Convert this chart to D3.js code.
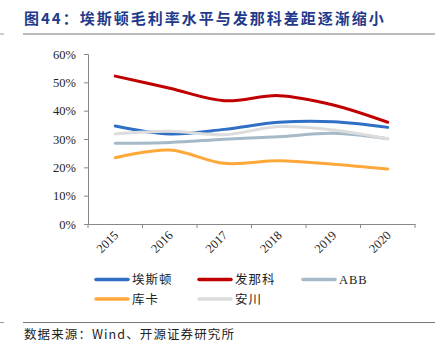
<!DOCTYPE html>
<html>
<head>
<meta charset="utf-8">
<script src="https://cdn.jsdelivr.net/npm/d3@7"></script>
<style>
	body { margin: 0; background: #fff; }
	svg { display: block; }
</style>
</head>
<body>
<script>
// data
var years = ["2015", "2016", "2017", "2018", "2019", "2020"];
var seriesNames = ["埃斯顿", "发那科", "ABB", "库卡", "安川"];
var estun = [34.6, 31.8, 33.4, 35.9, 36.1, 34.1];
var fanuc = [52.2, 47.9, 43.5, 45.3, 42.0, 35.9];
var abb = [28.5, 28.8, 29.9, 30.8, 32.0, 30.1];
var kuka = [23.4, 26.1, 21.4, 22.3, 21.1, 19.4];
var yaskawa = [31.8, 32.7, 31.5, 34.4, 33.2, 30.1];
var yTicks = [0, 10, 20, 30, 40, 50, 60];

var colors = ["#2f6fc6", "#c00000", "#a5bac8", "#ffa83a", "#dcdcdc"];

function makeGraph() {
	var w = 442, h = 354;
	var margin = {top: 54, left: 88, right: 27, bottom: 130};

	var svg = d3.select("body").append("svg")
		.attr("width", w)
		.attr("height", h);

	// title and rules
	svg.append("text")
		.attr("x", 24)
		.attr("y", 24)
		.attr("fill", "#1f3a8a")
		.attr("font-family", "'Noto Sans CJK SC', sans-serif")
		.attr("font-weight", "bold")
		.attr("font-size", 15)
		.attr("letter-spacing", 2)
		.text("图44：埃斯顿毛利率水平与发那科差距逐渐缩小");

	svg.append("line").attr("x1", 23).attr("x2", 435).attr("y1", 34).attr("y2", 34)
		.attr("stroke", "#777").attr("stroke-width", 1.2);
	svg.append("line").attr("x1", 0).attr("x2", 4).attr("y1", 34).attr("y2", 34)
		.attr("stroke", "#999").attr("stroke-width", 1);
	svg.append("line").attr("x1", 23).attr("x2", 435).attr("y1", 322.5).attr("y2", 322.5)
		.attr("stroke", "#777").attr("stroke-width", 1.2);
	svg.append("line").attr("x1", 0).attr("x2", 4).attr("y1", 322.5).attr("y2", 322.5)
		.attr("stroke", "#999").attr("stroke-width", 1);

	svg.append("text")
		.attr("x", 24)
		.attr("y", 339)
		.attr("fill", "#222")
		.attr("font-family", "'Noto Sans CJK SC', 'Liberation Serif', serif")
		.attr("font-size", 12.5)
		.attr("letter-spacing", 1.1)
		.text("数据来源：Wind、开源证券研究所");

	var xScale = d3.scaleBand()
		.domain(years)
		.range([margin.left, w - margin.right]);

	var yScale = d3.scaleLinear()
		.domain([0, 60])
		.range([224, margin.top]);

	// y axis
	var yAxis = d3.axisLeft(yScale)
		.tickValues(yTicks)
		.tickSize(4)
		.tickPadding(8)
		.tickFormat(function(d) { return d + "%"; });

	var gy = svg.append("g")
		.attr("transform", "translate(" + margin.left + ",0)")
		.call(yAxis);
	gy.select(".domain").attr("stroke", "#888");
	gy.selectAll(".tick line").attr("stroke", "#888");
	gy.selectAll("text")
		.attr("font-family", "'Liberation Serif', serif")
		.attr("font-size", 12.5)
		.attr("fill", "#222");

	// x axis: labels at band centres, ticks on band edges
	var xAxis = d3.axisBottom(xScale).tickSize(0).tickPadding(0);
	var gx = svg.append("g")
		.attr("transform", "translate(0," + yScale(0) + ")")
		.call(xAxis);
	gx.select(".domain").attr("stroke", "#888");
	gx.selectAll("text")
		.attr("font-family", "'Liberation Serif', serif")
		.attr("font-size", 12.5)
		.attr("fill", "#222")
		.attr("text-anchor", "end")
		.attr("dy", 0)
		.attr("transform", "translate(4,12) rotate(-45)");

	var edges = years.map(function(d) { return xScale(d); }).concat([xScale.range()[1]]);
	svg.selectAll(".edgeTick")
		.data(edges)
		.enter()
		.append("line")
		.attr("class", "edgeTick")
		.attr("x1", function(d) { return d; })
		.attr("x2", function(d) { return d; })
		.attr("y1", yScale(0))
		.attr("y2", yScale(0) + 4)
		.attr("stroke", "#888");

	// lines
	var allSeries = [estun, fanuc, abb, kuka, yaskawa];
	var line = d3.line()
		.x(function(d, i) { return xScale(years[i]) + xScale.bandwidth() / 2; })
		.y(function(d) { return yScale(d); })
		.curve(d3.curveCardinal);

	svg.selectAll(".series")
		.data(allSeries)
		.enter()
		.append("path")
		.attr("class", "series")
		.attr("d", line)
		.attr("fill", "none")
		.attr("stroke", function(d, i) { return colors[i]; })
		.attr("stroke-width", 3)
		.attr("stroke-linecap", "round");

	// legend
	var legendX = [96, 199, 303];
	var legendY = [279.5, 299];
	var legend = svg.selectAll(".legend")
		.data(seriesNames)
		.enter()
		.append("g")
		.attr("class", "legend")
		.attr("transform", function(d, i) {
			return "translate(" + legendX[i % 3] + "," + legendY[Math.floor(i / 3)] + ")";
		});
	legend.append("line")
		.attr("x1", 0).attr("x2", 32)
		.attr("stroke", function(d, i) { return colors[i]; })
		.attr("stroke-width", 3.5)
		.attr("stroke-linecap", "round");
	legend.append("text")
		.attr("x", 36)
		.attr("y", 4.5)
		.attr("font-family", "'Liberation Serif', 'Noto Sans CJK SC', serif")
		.attr("font-size", 12.5)
		.attr("fill", "#222")
		.attr("letter-spacing", 1)
		.text(function(d) { return d; });
}

makeGraph();
</script>
</body>
</html>
